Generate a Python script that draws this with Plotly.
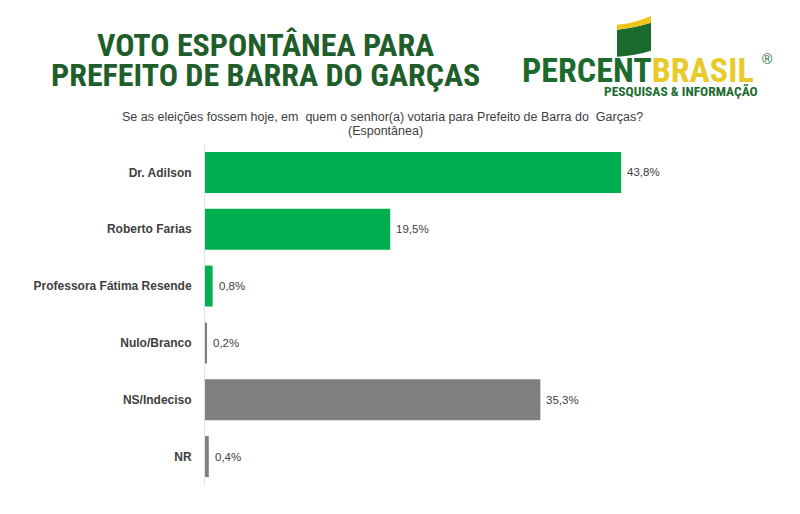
import plotly.graph_objects as go

categories = ["Dr. Adilson", "Roberto Farias", "Professora Fátima Resende", "Nulo/Branco", "NS/Indeciso", "NR"]
values = [43.8, 19.5, 0.8, 0.2, 35.3, 0.4]
colors = ["#00B050", "#00B050", "#00B050", "#7F7F7F", "#7F7F7F", "#7F7F7F"]
labels = [f"{v:.1f}".replace(".", ",") + "%" for v in values]

title_lines = ["VOTO ESPONTÂNEA PARA", "PREFEITO DE BARRA DO GARÇAS"]
subtitle_lines = ["Se as eleições fossem hoje, em  quem o senhor(a) votaria para Prefeito de Barra do  Garças?",
                  "(Espontânea)"]

NARROW = "Liberation Sans Narrow, Arial Narrow, Roboto Condensed, Liberation Sans, Arial, sans-serif"
SANS = "Liberation Sans, Arial, sans-serif"

fig = go.Figure()
fig.add_trace(go.Bar(
    y=categories, x=values, orientation="h",
    marker=dict(color=colors, line=dict(width=0)),
    hoverinfo="skip",
))

for c, v, t in zip(categories, values, labels):
    fig.add_annotation(x=v, y=c, text=t, showarrow=False, xanchor="left", xshift=4,
                       font=dict(family=SANS, size=11.5, color="#404040"))

W, H = 800, 514
L, R, T, B = 205, 120, 143.5, 28.5

fig.update_layout(
    width=W, height=H,
    margin=dict(l=L, r=R, t=T, b=B),
    paper_bgcolor="white", plot_bgcolor="white",
    bargap=0.28,
    showlegend=False,
    xaxis=dict(range=[0, 50], visible=False, fixedrange=True),
    yaxis=dict(autorange=False, range=[5.5, -0.5], type="category",
               categoryorder="array", categoryarray=categories,
               showline=True, linecolor="#DCE3EA", linewidth=1,
               ticks="", ticklabelstandoff=10, showgrid=False, fixedrange=True,
               tickfont=dict(family=SANS, size=12, color="#404040")),
)
fig.update_yaxes(tickvals=categories, ticktext=[f"<b>{c}</b>" for c in categories])


def px(xp):
    return (xp - L) / (W - L - R)


def py(yp):
    return (H - B - yp) / (H - T - B)


# Title (two lines, tight spacing)
for line, yc in zip(title_lines, [44, 74]):
    fig.add_annotation(xref="paper", yref="paper", x=px(265), y=py(yc),
                       text="<b>" + line + "</b>", showarrow=False,
                       xanchor="center", yanchor="middle",
                       font=dict(family=NARROW, size=32, color="#1F5E2B"))

# subtitle
for line, xc, yc in zip(subtitle_lines, [382, 385], [116, 130]):
    fig.add_annotation(xref="paper", yref="paper", x=px(xc), y=py(yc),
                       text=line, showarrow=False, xanchor="center", yanchor="middle",
                       font=dict(family=SANS, size=12.5, color="#404040"))

# Logo flag
fig.add_shape(type="path", xref="paper", yref="paper",
              path=f"M {px(617)},{py(29)} Q {px(635)},{py(27)} {px(651)},{py(22)} L {px(651)},{py(50)} Q {px(635)},{py(55)} {px(617)},{py(56)} Z",
              fillcolor="#1B6B2F", line=dict(width=0))
fig.add_shape(type="path", xref="paper", yref="paper",
              path=f"M {px(617)},{py(24)} Q {px(635)},{py(22)} {px(651)},{py(15)} L {px(651)},{py(22)} Q {px(635)},{py(27)} {px(617)},{py(29)} Z",
              fillcolor="#F0C419", line=dict(width=0))

fig.add_annotation(xref="paper", yref="paper", x=px(520), y=py(69.5),
                   text="<b>PERCENT<span style='color:#E8CB2A'>BRASIL</span></b>",
                   showarrow=False, xanchor="left", yanchor="middle",
                   font=dict(family=NARROW, size=34, color="#1B6B2F"))
fig.add_annotation(xref="paper", yref="paper", x=px(767), y=py(58), text="®",
                   showarrow=False, xanchor="center", yanchor="middle",
                   font=dict(family=SANS, size=14, color="#1B6B2F"))
fig.add_annotation(xref="paper", yref="paper", x=px(760), y=py(90), text="<b>PESQUISAS & INFORMAÇÃO</b>",
                   showarrow=False, xanchor="right", yanchor="middle",
                   font=dict(family=NARROW, size=13.5, color="#1B6B2F"))

fig.write_html("out.html", config={"displayModeBar": False},
               post_script="document.body.style.margin='0';document.body.style.padding='0';")
